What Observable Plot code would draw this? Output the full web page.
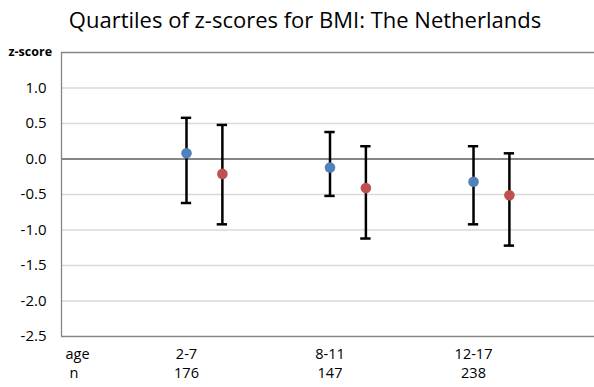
<!DOCTYPE html>
<html>
<head>
<meta charset="utf-8">
<script src="https://cdn.jsdelivr.net/npm/d3@7"></script>
<script src="https://cdn.jsdelivr.net/npm/@observablehq/plot@0.6"></script>
<style>
  html, body { margin: 0; padding: 0; background: #fff; }
  #title { width: 594px; height: 32px; font-family: "Open Sans", sans-serif; font-size: 22px; text-align: center; line-height: 32px; color: #000; padding-left: 16px; box-sizing: border-box; padding-top: 3px; white-space: nowrap;}
</style>
</head>
<body>
<div id="title">Quartiles of z-scores for BMI: The Netherlands</div>
<div id="chart"></div>
<script>
const ageGroups = ["2-7", "8-11", "12-17"];
const nValues = [176, 147, 238];
const seriesNames = ["series 1", "series 2"];
const seriesColors = ["#4f81bd", "#c0504d"];
// series 1 (blue)
const median1 = [0.08, -0.12, -0.32];
const q1_1 = [-0.62, -0.52, -0.92];
const q3_1 = [0.58, 0.38, 0.18];
// series 2 (red)
const median2 = [-0.21, -0.41, -0.51];
const q1_2 = [-0.92, -1.12, -1.22];
const q3_2 = [0.48, 0.18, 0.08];
const yTicks = [1.0, 0.5, 0.0, -0.5, -1.0, -1.5, -2.0, -2.5];

const seriesOffset = [0, 0.25];
const rows = [];
ageGroups.forEach((g, i) => {
  rows.push({group: g, pos: i + 1 + seriesOffset[0], series: seriesNames[0], med: median1[i], q1: q1_1[i], q3: q3_1[i]});
  rows.push({group: g, pos: i + 1 + seriesOffset[1], series: seriesNames[1], med: median2[i], q1: q1_2[i], q3: q3_2[i]});
});
const labels = ageGroups.map((g, i) => ({pos: i + 1, age: g, n: String(nValues[i])}));
const capHalf = 0.036;

const font = "Open Sans, sans-serif";
const chart = Plot.plot({
  width: 594,
  height: 355,
  marginTop: 20,
  marginBottom: 51,
  marginLeft: 61,
  marginRight: 0,
  style: {fontFamily: font, fontSize: "15px", color: "#000", background: "#fff"},
  x: {domain: [0.129, 3.843], axis: null},
  y: {domain: [-2.5, 1.5], axis: null},
  color: {domain: seriesNames, range: seriesColors},
  marks: [
    Plot.ruleY(yTicks.filter(d => d !== 0 && d !== -2.5), {stroke: "#d9d9d9", strokeWidth: 1.3}),
    Plot.ruleY([1.5], {stroke: "#868686", strokeWidth: 1.3}),
    Plot.ruleY([-2.5], {stroke: "#868686", strokeWidth: 1.3}),
    Plot.ruleY([0], {stroke: "#868686", strokeWidth: 2}),
    Plot.ruleX([0.129], {stroke: "#868686", strokeWidth: 1.3}),
    Plot.axisY({ticks: yTicks, tickSize: 0, tickPadding: 15, tickFormat: d => d.toFixed(1), label: null}),
    Plot.text(["z-score"], {frameAnchor: "top-left", dx: -53, dy: -5, textAnchor: "start", fontWeight: "bold", fontSize: 12.5, text: d => d}),
    Plot.ruleX(rows, {x: "pos", y1: "q1", y2: "q3", stroke: "#000", strokeWidth: 2.5}),
    Plot.ruleY(rows, {y: "q3", x1: d => d.pos - capHalf, x2: d => d.pos + capHalf, stroke: "#000", strokeWidth: 2.5}),
    Plot.ruleY(rows, {y: "q1", x1: d => d.pos - capHalf, x2: d => d.pos + capHalf, stroke: "#000", strokeWidth: 2.5}),
    Plot.dot(rows, {x: "pos", y: "med", fill: "series", r: 5.3}),
    Plot.text(labels, {x: "pos", text: "age", frameAnchor: "bottom", dy: 22, fontSize: 14.5}),
    Plot.text(labels, {x: "pos", text: "n", frameAnchor: "bottom", dy: 41, fontSize: 14.5}),
    Plot.text(["age"], {frameAnchor: "bottom-left", dx: 4, dy: 22, text: d => d, fontSize: 14.5}),
    Plot.text(["n"], {frameAnchor: "bottom-left", dx: 8, dy: 41, text: d => d, fontSize: 14.5})
  ]
});
document.getElementById("chart").appendChild(chart);
</script>
</body>
</html>
